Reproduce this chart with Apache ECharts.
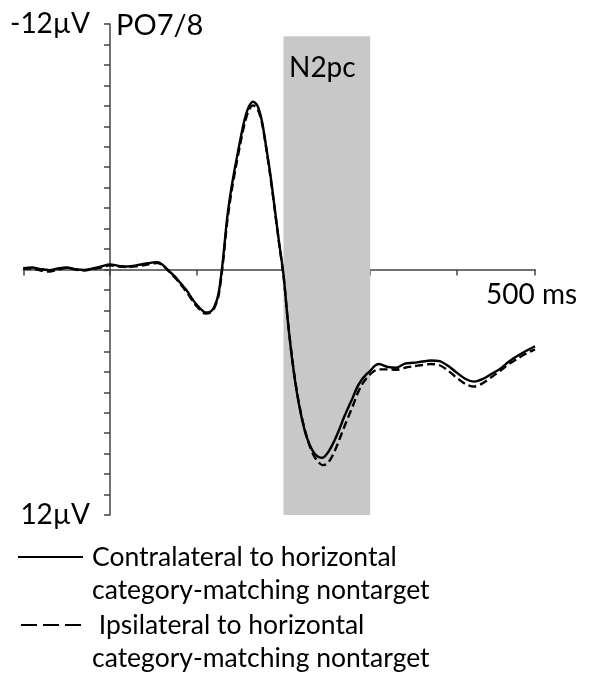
<!DOCTYPE html>
<html>
<head>
<meta charset="utf-8">
<script src="https://cdn.jsdelivr.net/npm/echarts@6/dist/echarts.min.js"></script>
<style>
html,body{margin:0;padding:0;background:#fff;}
#chart{width:589px;height:684px;}
</style>
</head>
<body>
<div id="chart"></div>
<script>
// time in ms
const times = [-100,-90,-80,-70,-60,-50,-40,-30,-20,-10,0,10,20,30,40,50,
  55,60,65,70,75,80,85,90,95,100,105,110,115,120,125,130,135,140,145,150,155,160,165,170,175,180,185,190,195,200,205,210,215,220,225,230,235,240,245,250,255,260,265,270,275,280,285,290,295,300,305,310,
  320,330,340,350,360,370,380,390,400,410,420,430,440,450,460,470,480,490];
// contralateral (solid), µV
const contra = [-0.06,-0.1,-0.02,0.03,-0.05,-0.1,-0.02,0.02,-0.05,-0.15,-0.25,-0.18,-0.15,-0.2,-0.28,-0.35,
  -0.36,-0.25,-0.05,0.15,0.35,0.6,0.85,1.12,1.45,1.73,1.95,2.1,2.08,1.85,1.2,-0.4,-2.5,-4.0,-5.2,-6.3,-7.3,-7.95,-8.2,-8.0,-7.28,-6.0,-4.6,-2.95,-1.3,0.25,2.5,4.4,5.9,7.05,7.95,8.55,8.95,9.15,9.2,9.02,8.68,8.25,7.75,7.2,6.72,6.25,5.75,5.4,5.15,4.95,4.72,4.62,
  4.76,4.8,4.6,4.56,4.5,4.45,4.48,4.72,5.05,5.35,5.48,5.35,5.1,4.85,4.5,4.22,3.97,3.75];
// ipsilateral (dashed), µV
const ipsi = [-0.05,-0.05,0.05,0.1,0.0,-0.08,0.0,0.05,-0.02,-0.1,-0.2,-0.15,-0.12,-0.15,-0.22,-0.3,
  -0.32,-0.22,-0.03,0.18,0.4,0.65,0.92,1.2,1.52,1.8,2.02,2.15,2.12,1.9,1.3,-0.25,-2.3,-3.8,-5.0,-6.1,-7.1,-7.78,-8.02,-7.85,-7.2,-5.95,-4.5,-2.9,-1.25,0.3,2.5,4.35,5.85,7.0,7.9,8.6,9.1,9.4,9.56,9.5,9.22,8.78,8.25,7.7,7.18,6.66,6.1,5.65,5.35,5.12,4.95,4.88,
  4.88,4.9,4.8,4.73,4.67,4.62,4.68,4.95,5.3,5.6,5.72,5.55,5.25,4.95,4.62,4.35,4.1,3.9];
const window_ = [200, 300];         // N2pc window (ms)
const shadeRange = [-11.4, 12];      // vertical extent of shading (µV)
const yLabels = {'-12': '-12µV', '12': '12µV'};
const contraName = 'Contralateral to horizontal\ncategory-matching nontarget';
const ipsiName = 'Ipsilateral to horizontal\ncategory-matching nontarget';

const FONT = 'Lato';
const FS = 26.5;
const chart = echarts.init(document.getElementById('chart'));
const axisCol = '#444';
const legendCommon = {
  orient: 'vertical', padding: 0, itemHeight: 14,
  itemStyle: {opacity: 0}
};
chart.setOption({
  animation: false,
  textStyle: {fontFamily: FONT},
  grid: {left: 23.3, right: 54, top: 24, bottom: 169, containLabel: false, outerBoundsMode: 'none'},
  xAxis: {
    type: 'value', min: -100, max: 490, interval: 100,
    axisLine: {onZero: true, lineStyle: {color: axisCol, width: 1.5}},
    axisTick: {show: true, length: 6, lineStyle: {color: axisCol, width: 1.5}},
    axisLabel: {show: false},
    splitLine: {show: false}
  },
  yAxis: {
    type: 'value', min: -12, max: 12, interval: 1, inverse: true,
    axisLine: {show: true, onZero: true, lineStyle: {color: axisCol, width: 1.5}},
    axisTick: {show: true, length: 6, lineStyle: {color: axisCol, width: 1.5}},
    axisLabel: {
      show: true, margin: -66.7, color: '#000', fontSize: 28, fontFamily: FONT,
      formatter: v => yLabels[String(v)] || ''
    },
    splitLine: {show: false}
  },
  legend: [
    Object.assign({}, legendCommon, {
      data: [{name: contraName}],
      left: 17, top: 507.5, itemWidth: 65,
      formatter: n => '\n' + n,
      textStyle: {fontSize: FS, lineHeight: 33, color: '#000', fontFamily: FONT, padding: [0, 0, 0, 4]}
    }),
    Object.assign({}, legendCommon, {
      data: [{name: ipsiName, lineStyle: {type: [16, 6]}}],
      left: 20, top: 575.5, itemWidth: 60,
      formatter: n => '\n ' + n,
      textStyle: {fontSize: FS, lineHeight: 33, color: '#000', fontFamily: FONT, padding: [0, 0, 0, 6]}
    })
  ],
  graphic: [
    {type: 'text', z: 100, left: 116, top: 11, style: {text: 'PO7/8', fontSize: 29, fontFamily: FONT, fill: '#000'}},
    {type: 'text', z: 100, left: 289, top: 54, style: {text: 'N2pc', fontSize: 28, fontFamily: FONT, fill: '#000'}},
    {type: 'text', z: 100, left: 486, top: 281, style: {text: '500 ms', fontSize: 28, fontFamily: FONT, fill: '#000'}}
  ],
  series: [
    {
      type: 'line', name: 'shade', data: [], z: -1, silent: true,
      markArea: {
        silent: true,
        itemStyle: {color: '#c8c8c8'},
        data: [[{xAxis: window_[0], yAxis: shadeRange[0]}, {xAxis: window_[1], yAxis: shadeRange[1]}]]
      }
    },
    {
      type: 'line', name: ipsiName, z: 3,
      data: times.map((t, i) => [t, ipsi[i]]),
      symbol: 'none', smooth: 0.3,
      lineStyle: {color: '#000', width: 2.4, type: [8, 4]},
      itemStyle: {color: '#000'}
    },
    {
      type: 'line', name: contraName, z: 4,
      data: times.map((t, i) => [t, contra[i]]),
      symbol: 'none', smooth: 0.3,
      lineStyle: {color: '#000', width: 2.4},
      itemStyle: {color: '#000'}
    }
  ]
});
</script>
</body>
</html>
